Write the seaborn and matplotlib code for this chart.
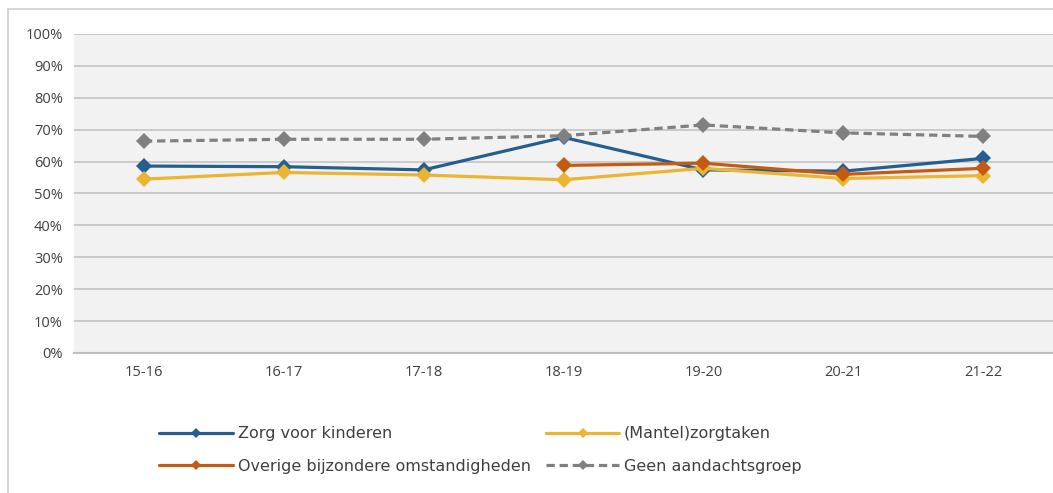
import numpy as np
import pandas as pd
import matplotlib
matplotlib.use("Agg")
import matplotlib.pyplot as plt
from matplotlib.lines import Line2D
from matplotlib.ticker import PercentFormatter
import seaborn as sns

years = ["15-16", "16-17", "17-18", "18-19", "19-20", "20-21", "21-22"]
zorg_kinderen = [58.6, 58.4, 57.4, 67.6, 57.4, 57.0, 61.0]
mantelzorg = [54.5, 56.6, 55.8, 54.3, 57.9, 54.7, 55.6]
overige = [np.nan, np.nan, np.nan, 58.8, 59.5, 56.0, 57.9]
geen_groep = [66.4, 67.0, 67.0, 68.1, 71.5, 69.0, 67.9]

series_names = [
    "Zorg voor kinderen",
    "(Mantel)zorgtaken",
    "Overige bijzondere omstandigheden",
    "Geen aandachtsgroep",
]
series_values = [zorg_kinderen, mantelzorg, overige, geen_groep]
colors = ["#255E91", "#EBB431", "#C55A11", "#808080"]

rows = []
for name, vals in zip(series_names, series_values):
    for i, (yr, v) in enumerate(zip(years, vals)):
        rows.append({"pos": i, "jaar": yr, "groep": name, "waarde": v})
df = pd.DataFrame(rows).dropna()

sns.set_theme(style="white")
plt.rcParams["font.family"] = ["DejaVu Sans"]

fig = plt.figure(figsize=(10.53, 4.93), dpi=100)
W, H = 1053, 493
ax = fig.add_axes([74 / W, (H - 353) / H, 979 / W, 319 / H])
ax.set_facecolor("#F2F2F2")

palette = dict(zip(series_names, colors))
dashes = {n: "" for n in series_names}
dashes["Geen aandachtsgroep"] = (2.6, 1.5)
sns.lineplot(
    data=df, x="pos", y="waarde", hue="groep", style="groep",
    hue_order=series_names, style_order=series_names,
    palette=palette, dashes=dashes, markers={n: "D" for n in series_names},
    markersize=8, markeredgewidth=0, linewidth=2.3, sort=False,
    legend=False, ax=ax, zorder=3,
)

ax.set_xlim(-0.5, 6.5)
ax.set_ylim(0, 100)
ax.set_yticks(np.arange(0, 101, 10))
ax.yaxis.set_major_formatter(PercentFormatter(decimals=0))
ax.set_xticks(range(len(years)))
ax.set_xticklabels(years)
ax.set_xlabel("")
ax.set_ylabel("")
ax.grid(axis="y", color="#C0C0C0", linewidth=1.1, zorder=0)
ax.set_axisbelow(True)
for s in ["top", "right", "left"]:
    ax.spines[s].set_visible(False)
ax.spines["bottom"].set_color("#BFBFBF")
ax.spines["bottom"].set_linewidth(1.5)
ax.tick_params(axis="both", length=0, labelsize=10.5, colors="#404040")
ax.tick_params(axis="y", pad=8)
ax.tick_params(axis="x", pad=9)
for lab in ax.get_xticklabels() + ax.get_yticklabels():
    lab.set_family(["Open Sans", "DejaVu Sans"])

# outer chart frame
fig.add_artist(Line2D([8 / W, 8 / W], [0, 1 - 9 / H], transform=fig.transFigure,
                      color="#D0D0D0", linewidth=1.2))
fig.add_artist(Line2D([8 / W, 1], [1 - 9 / H, 1 - 9 / H], transform=fig.transFigure,
                      color="#D0D0D0", linewidth=1.2))

handles = []
for name, c in zip(series_names, colors):
    ls = (0, (2.6, 1.5)) if name == "Geen aandachtsgroep" else "-"
    handles.append(Line2D([], [], color=c, linewidth=2.3, linestyle=ls,
                          marker="D", markersize=5, markeredgewidth=0))
# order so that columns read: blue / orange, yellow / grey
order = [0, 2, 1, 3]
fig.legend([handles[i] for i in order], [series_names[i] for i in order],
           ncol=2, loc="center left", bbox_to_anchor=(145 / W, 1 - 450 / H),
           frameon=False, fontsize=11.5, handlelength=4.6, handletextpad=0.3,
           columnspacing=0.95, labelspacing=1.1, labelcolor="#404040")

fig.savefig("out.png", dpi=100)
